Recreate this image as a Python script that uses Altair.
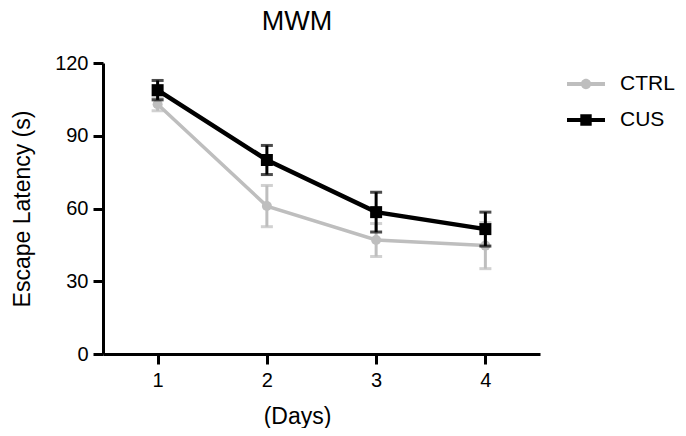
import altair as alt
import pandas as pd

days = [1, 2, 3, 4]
groups = ["CTRL", "CUS"]
ctrl_mean = [103.0, 61.0, 47.0, 44.7]
ctrl_sem = [2.7, 8.5, 6.8, 9.5]
cus_mean = [108.8, 80.0, 58.5, 51.5]
cus_sem = [4.0, 6.0, 8.2, 7.0]
colors = ["#BEBEBE", "#000000"]
y_ticks = [0, 30, 60, 90, 120]

rows = []
for g, means, sems in [("CTRL", ctrl_mean, ctrl_sem), ("CUS", cus_mean, cus_sem)]:
    for d, m, s in zip(days, means, sems):
        rows.append({"group": g, "day": d, "mean": m, "lo": m - s, "hi": m + s})
df = pd.DataFrame(rows)

FONT = "Liberation Sans"
xs = alt.Scale(domain=[0.5, 4.5], nice=False, zero=False)
ys = alt.Scale(domain=[0, 120], nice=False)

x_axis = alt.Axis(values=days, title="(Days)", format="d", labelPadding=6,
                  titleX=194, titleY=69, titleBaseline="alphabetic",
                  titleAnchor="middle", titleAlign="center")
y_axis = alt.Axis(values=y_ticks, title="Escape Latency (s)", labelPadding=5,
                  titleX=-74, titleY=145.5, titleBaseline="alphabetic",
                  titleAlign="center", titleAngle=270)

X = lambda f: alt.X(f, type="quantitative", scale=xs, axis=x_axis)
Y = lambda f: alt.Y(f, type="quantitative", scale=ys, axis=y_axis)

base = alt.Chart(df)

def series(name, color, shape, size, lw):
    b = base.transform_filter(alt.datum.group == name)
    rule = b.mark_rule(strokeWidth=3, color=color).encode(
        x=X("day"), y=Y("lo"), y2="hi:Q")
    tick_lo = b.mark_tick(thickness=3, size=12, color=color, orient="horizontal").encode(
        x=X("day"), y=Y("lo"))
    tick_hi = b.mark_tick(thickness=3, size=12, color=color, orient="horizontal").encode(
        x=X("day"), y=Y("hi"))
    line = b.mark_line(strokeWidth=lw, color=color).encode(x=X("day"), y=Y("mean"))
    pts = b.mark_point(filled=True, opacity=1, color=color, shape=shape, size=size).encode(
        x=X("day"), y=Y("mean"))
    return [rule, tick_lo, tick_hi, line, pts]

circle_leg = ("M-1,-0.1 L1,-0.1 L1,0.1 L-1,0.1 Z "
              "M-0.27,0 A0.27,0.27 0 1,1 0.27,0 A0.27,0.27 0 1,1 -0.27,0 Z")
square_leg = ("M-1,-0.1 L1,-0.1 L1,0.1 L-1,0.1 Z "
              "M-0.3,-0.3 L0.3,-0.3 L0.3,0.3 L-0.3,0.3 Z")

leg = alt.Legend(title=None, orient="none", legendX=464, legendY=2,
                 padding=0, symbolSize=1444, symbolStrokeWidth=0,
                 symbolOpacity=1, labelFont=FONT, labelFontSize=21,
                 labelColor="black", labelOffset=15, rowPadding=7)

legend_layer = base.transform_filter("false").mark_point(filled=True, opacity=1).encode(
    x=X("day"), y=Y("mean"),
    color=alt.Color("group:N", scale=alt.Scale(domain=groups, range=colors), legend=leg),
    shape=alt.Shape("group:N", scale=alt.Scale(domain=groups, range=[circle_leg, square_leg]),
                    legend=leg),
)

layers = (series("CTRL", colors[0], "circle", 100, 3.5)
          + series("CUS", colors[1], "square", 144, 4.5) + [legend_layer])

chart = alt.layer(*layers).properties(
    width=437, height=291,
    title=alt.TitleParams("MWM", font=FONT, fontSize=27, fontWeight="normal", color="black",
                          anchor="middle", frame="group", dx=-24.5, offset=17),
    autosize=alt.AutoSizeParams(type="none"),
    padding={"left": 95, "top": 55, "right": 138, "bottom": 74},
).configure(background="white").configure_view(stroke=None).configure_axis(
    grid=False, domainColor="black", domainWidth=3, tickColor="black", tickWidth=3,
    tickSize=10, labelFontSize=20, labelFont=FONT, labelColor="black",
    titleFont=FONT, titleFontSize=23, titleFontWeight="normal", titleColor="black",
)

chart.save("out.html", embed_options={"renderer": "svg", "actions": False})
